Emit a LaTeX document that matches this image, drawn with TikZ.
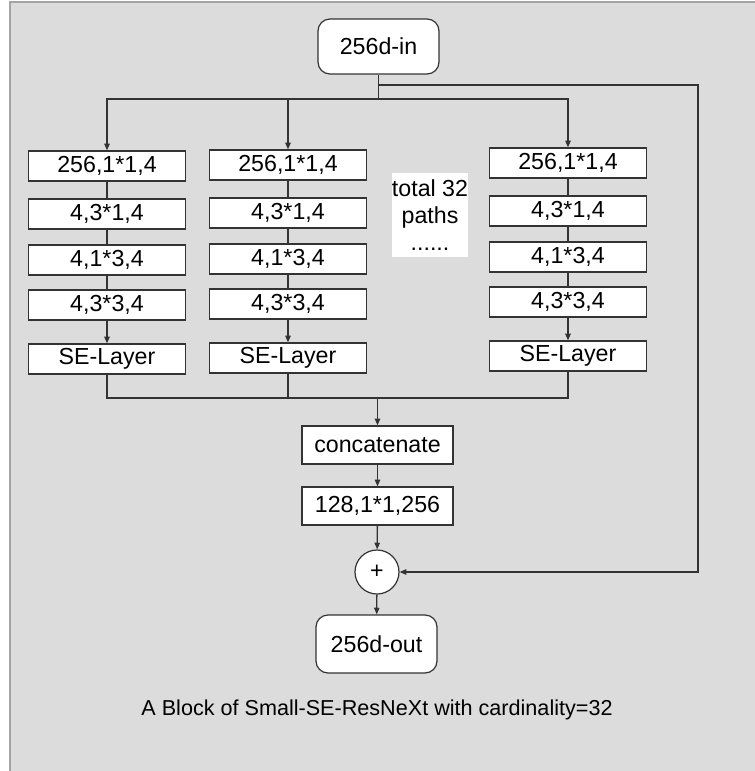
\documentclass[tikz,border=0pt]{standalone}
\usepackage{fontspec}
\setmainfont{Liberation Sans}
\usetikzlibrary{arrows.meta, positioning}
\definecolor{bggray}{HTML}{DCDCDC}
\definecolor{framegray}{HTML}{A4A4A4}
\definecolor{linegray}{HTML}{333333}
\def\px{0.75pt}
\def\bw{157}
\def\bh{30}
\newcommand\boxfont{\fontsize{17.4}{20.5}\selectfont}
\tikzset{
    link/.style = {draw=linegray, line width=1pt},
    layer/.style = {
        draw=linegray, fill=white, rectangle, line width=0.9pt, inner sep=0pt,
        minimum width=\bw*\px, minimum height=\bh*\px
    },
    wide/.style = {layer, minimum width=151*\px, minimum height=38*\px},
    terminal/.style = {
        draw=linegray, fill=white, rectangle, rounded corners=9pt, line width=0.9pt,
        inner sep=0pt, minimum width=121*\px
    },
    adder/.style = {draw=linegray, fill=white, circle, line width=0.9pt, inner sep=0pt, minimum size=44*\px},
    note/.style = {fill=white, align=center, inner sep=0pt, minimum width=75*\px, minimum height=84*\px}
}

\begin{document}
\begin{tikzpicture}[x=\px, y=-\px, every node/.style={font=\boxfont}, >={Triangle[width=4pt,length=5pt]}]
    % Background
    \useasboundingbox (0,0) rectangle (755,771);
    \fill[bggray] (10,2) rectangle (755,771);
    \draw[framegray, line width=1.2pt] (10,771) -- (10,2) -- (755,2);

    % Input, merge and output
    \node[terminal, minimum height=55*\px] (in) at (378.5,46.5) {256d-in};
    \node[wide] (cat) at (377.5,445) {concatenate};
    \node[wide] (conv) at (377.5,506) {128,1*1,256};
    \node[adder] (plus) at (377,572) {+};
    \node[terminal, minimum height=58*\px] (out) at (376.5,644) {256d-out};
    \node[note] (paths) at (430,215) {total 32\\paths\\......};

    % The paths
    \foreach \c/\x/\dy in {1/107/0, 2/288/-1, 3/568/-3}{
        \foreach \r/\y/\t in {1/166/{256,1*1,4}, 2/214/{4,3*1,4}, 3/260/{4,1*3,4}, 4/305/{4,3*3,4}, 5/359/{SE-Layer}}{
            \node[layer] (c\c-\r) at (\x,\y+\dy) {\t};
        }
        \foreach \r/\s in {1/2, 2/3, 3/4}{
            \draw[link] (c\c-\r) -- (c\c-\s);
        }
        \draw[link, ->] (c\c-4) -- (c\c-5);
    }

    % Split and merge
    \coordinate (split) at (378.5,99);
    \coordinate (merge) at (377.5,398);
    \coordinate (skip) at (698,85);
    \draw[link] (in) -- (split);
    \foreach \c in {1, 2, 3}{
        \draw[link, ->] (split) -| (c\c-1);
        \draw[link] (c\c-5) |- (merge);
    }
    \draw[link, ->] (merge) -- (cat);
    \draw[link, ->] (cat) -- (conv);
    \draw[link, ->] (conv) -- (plus);
    \draw[link, ->] (plus) -- (out);
    \draw[link, ->] (in |- skip) -- (skip) |- (plus);

    \node[font=\fontsize{16.2}{19}\selectfont] (caption) at (377,710) {A Block of Small-SE-ResNeXt with cardinality=32};
\end{tikzpicture}
\end{document}
